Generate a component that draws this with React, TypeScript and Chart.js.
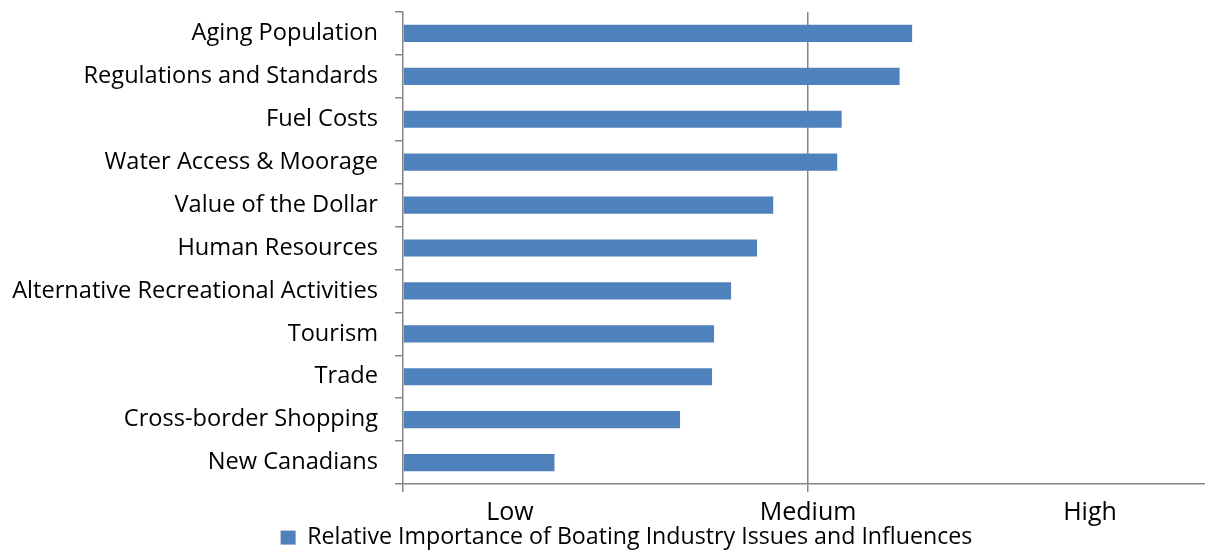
import React, { useEffect, useRef } from 'react';
import { Chart, registerables } from 'chart.js';

Chart.register(...registerables);

const categories = [
  'Aging Population',
  'Regulations and Standards',
  'Fuel Costs',
  'Water Access & Moorage',
  'Value of the Dollar',
  'Human Resources',
  'Alternative Recreational Activities',
  'Tourism',
  'Trade',
  'Cross-border Shopping',
  'New Canadians',
];

const importance = [1.257, 1.226, 1.083, 1.072, 0.914, 0.874, 0.81, 0.768, 0.763, 0.684, 0.374];

const seriesName = 'Relative Importance of Boating Industry Issues and Influences';

const levelTicks = [0, 0.264, 1, 1.696];
const levelLabels = ['', 'Low', 'Medium', 'High'];

const FONT = '"Open Sans", Lato, sans-serif';
const AXIS = '#868686';
const BAR = '#4F81BD';

const placeLegend = {
  id: 'placeLegend',
  afterLayout(chart: any) {
    const l = chart.legend;
    if (l) {
      l.left += 24;
      l.right += 24;
      l.top = 522;
      l.bottom = 550;
      l.height = l.bottom - l.top;
    }
  },
};

export default function App() {
  const ref = useRef<HTMLCanvasElement | null>(null);

  useEffect(() => {
    document.body.style.margin = '0';
    document.body.style.overflow = 'hidden';
    const canvas = ref.current;
    if (!canvas) return;
    const chart = new Chart(canvas, {
      type: 'bar',
      data: {
        labels: categories,
        datasets: [
          {
            label: seriesName,
            data: importance,
            backgroundColor: BAR,
            borderWidth: 0,
            barPercentage: 0.4,
            categoryPercentage: 1,
          },
        ],
      },
      options: {
        indexAxis: 'y',
        responsive: false,
        animation: false,
        layout: { padding: { top: 12, left: 0, right: 0, bottom: 0 } },
        scales: {
          x: {
            type: 'linear',
            min: 0,
            max: 1.98,
            afterBuildTicks: (scale: any) => {
              scale.ticks = levelTicks.map((v) => ({ value: v }));
            },
            afterFit: (scale: any) => {
              const lh = scale.chart.legend ? scale.chart.legend.height : 0;
              scale.height = 550 - 484 - lh;
            },
            ticks: {
              autoSkip: false,
              maxRotation: 0,
              color: '#000',
              padding: 6,
              font: { family: FONT, size: 25 },
              callback: (_v: any, i: number) => levelLabels[i],
            },
            grid: {
              color: (ctx: any) => (ctx.tick && ctx.tick.value === 1 ? AXIS : 'rgba(0,0,0,0)'),
              tickColor: (ctx: any) =>
                ctx.tick && (ctx.tick.value === 1 || ctx.tick.value === 0) ? AXIS : 'rgba(0,0,0,0)',
              lineWidth: 1.5,
              tickLength: 8,
            },
            border: { display: true, color: AXIS, width: 1.5 },
          },
          y: {
            type: 'category',
            offset: true,
            afterFit: (scale: any) => {
              scale.width = 403;
              scale.paddingTop = 0;
              scale.paddingBottom = 0;
            },
            ticks: {
              color: '#000',
              padding: 17,
              autoSkip: false,
              font: { family: FONT, size: 23.6 },
            },
            grid: {
              offset: true,
              drawOnChartArea: false,
              color: AXIS,
              lineWidth: 1.5,
              tickLength: 8,
            },
            border: { display: true, color: AXIS, width: 1.5 },
          },
        },
        plugins: {
          tooltip: { enabled: false },
          legend: {
            position: 'bottom',
            maxHeight: 8,
            labels: {
              color: '#000',
              boxWidth: 15,
              boxHeight: 14,
              padding: 4,
              font: { family: FONT, size: 23.2 },
            },
          },
        },
      },
      plugins: [placeLegend],
    });
    return () => chart.destroy();
  }, []);

  return (
    <div style={{ width: 1205, height: 550 }}>
      <canvas ref={ref} width={1205} height={550} style={{ display: 'block' }} />
    </div>
  );
}
